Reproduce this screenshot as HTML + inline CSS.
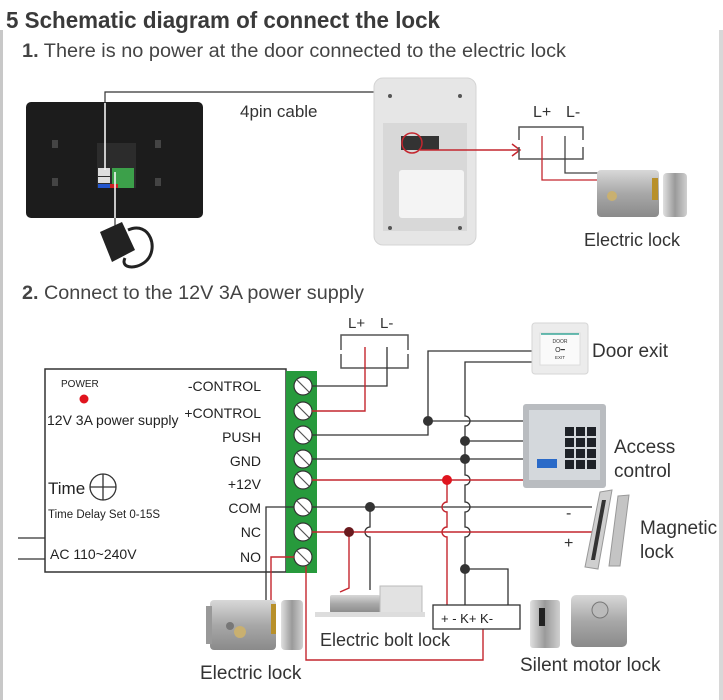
<!DOCTYPE html>
<html><head><meta charset="utf-8"><style>
html,body{margin:0;padding:0;background:#fff;}
svg{display:block;font-family:"Liberation Sans",sans-serif;}
</style></head><body>
<svg width="723" height="700" viewBox="0 0 723 700" xmlns="http://www.w3.org/2000/svg">
<defs>
<linearGradient id="steel" x1="0" y1="0" x2="0" y2="1"><stop offset="0" stop-color="#d8d8d8"/><stop offset="0.5" stop-color="#a8a8a8"/><stop offset="1" stop-color="#8a8a8a"/></linearGradient>
<linearGradient id="steel2" x1="0" y1="0" x2="1" y2="0"><stop offset="0" stop-color="#e0e0e0"/><stop offset="0.5" stop-color="#9a9a9a"/><stop offset="1" stop-color="#d0d0d0"/></linearGradient>
</defs>
<rect x="0" y="30" width="3" height="670" fill="#c8c8c8"/>
<rect x="719" y="30" width="4" height="670" fill="#d8d8d8"/>
<text x="6" y="28" font-size="23" font-weight="bold" fill="#3a3a3a" textLength="434" lengthAdjust="spacingAndGlyphs">5  Schematic diagram of connect the lock</text>
<text x="22" y="57" font-size="19" fill="#444" textLength="544" lengthAdjust="spacingAndGlyphs"><tspan font-weight="bold">1.</tspan> There is no power at the door connected to the electric lock</text>

<!-- monitor -->
<rect x="26" y="102" width="177" height="116" rx="5" fill="#1c1c1c"/>
<rect x="97" y="143" width="39" height="45" fill="#2c2c2c"/>
<rect x="98" y="168" width="12" height="8" fill="#ddd"/>
<rect x="98" y="177" width="12" height="6" fill="#ddd"/>
<rect x="98" y="184" width="14" height="4" fill="#2255cc"/>
<rect x="112" y="168" width="22" height="20" fill="#3ca04a"/>
<rect x="110" y="184" width="8" height="4" fill="#cc2222"/>
<g fill="#444"><rect x="52" y="140" width="6" height="8"/><rect x="155" y="140" width="6" height="8"/><rect x="52" y="178" width="6" height="8"/><rect x="155" y="178" width="6" height="8"/></g>
<path d="M105 170 V92 H425 V140" fill="none" stroke="#333" stroke-width="1.2"/>
<line x1="105" y1="103" x2="105" y2="170" stroke="#fff" stroke-width="1.5"/>
<line x1="115" y1="172" x2="115" y2="225" stroke="#fff" stroke-width="1.5"/>
<line x1="115" y1="218" x2="115" y2="228" stroke="#333" stroke-width="1.2"/>
<path d="M100 232 L122 222 L135 250 L112 262 Z" fill="#222"/>
<path d="M128 230 C150 220 160 250 145 262 C135 270 120 268 125 258" fill="none" stroke="#222" stroke-width="3"/>
<text x="240" y="117" font-size="17" fill="#333">4pin cable</text>

<!-- outdoor unit -->
<rect x="374" y="78" width="102" height="167" rx="9" fill="#e6e6e6" stroke="#d4d4d4"/>
<rect x="383" y="123" width="84" height="108" fill="#d8d8d8"/>
<rect x="399" y="170" width="65" height="48" rx="3" fill="#f4f4f4"/>
<rect x="401" y="136" width="38" height="14" fill="#333"/>
<g fill="#555"><circle cx="390" cy="96" r="2"/><circle cx="460" cy="96" r="2"/><circle cx="390" cy="228" r="2"/><circle cx="460" cy="228" r="2"/></g>
<circle cx="412" cy="143" r="10" fill="none" stroke="#c4262e" stroke-width="1.5"/>
<path d="M420 150 H520" stroke="#c4262e" stroke-width="1.5" fill="none"/>
<path d="M512 144 L520 150 L512 156" stroke="#c4262e" stroke-width="1.5" fill="none"/>
<text x="533" y="117" font-size="16" fill="#333">L+</text><text x="566" y="117" font-size="16" fill="#333">L-</text>
<path d="M519 140 V127 H583 V140 M519 147 V159 H583 V147" fill="none" stroke="#555" stroke-width="1.5"/>
<path d="M542 136 V180 H597" fill="none" stroke="#c4262e" stroke-width="1.3"/>
<path d="M565 136 V173 H600" fill="none" stroke="#444" stroke-width="1.3"/>
<rect x="597" y="170" width="62" height="47" rx="4" fill="url(#steel)"/>
<rect x="652" y="178" width="6" height="22" fill="#b8902a"/>
<circle cx="612" cy="196" r="5" fill="#c9b070"/>
<rect x="663" y="173" width="24" height="44" rx="4" fill="url(#steel2)"/>
<text x="584" y="246" font-size="18" fill="#333">Electric lock</text>

<text x="22" y="299" font-size="19" fill="#444" textLength="342" lengthAdjust="spacingAndGlyphs"><tspan font-weight="bold">2.</tspan> Connect to the 12V 3A power supply</text>

<!-- power box -->
<rect x="45" y="369" width="241" height="203" fill="#fff" stroke="#333" stroke-width="1.5"/>
<text x="61" y="387" font-size="10" fill="#222">POWER</text>
<circle cx="84" cy="399" r="4.5" fill="#e0141e"/>
<text x="47" y="425" font-size="14" fill="#222">12V 3A power supply</text>
<g font-size="14" fill="#222" text-anchor="end">
<text x="261" y="391">-CONTROL</text><text x="261" y="418">+CONTROL</text><text x="261" y="442">PUSH</text><text x="261" y="466">GND</text><text x="261" y="489">+12V</text><text x="261" y="513">COM</text><text x="261" y="537">NC</text><text x="261" y="562">NO</text>
</g>
<text x="48" y="494" font-size="17" fill="#222">Time</text>
<circle cx="103" cy="487" r="13" fill="none" stroke="#333" stroke-width="1.3"/>
<path d="M90 487 H116 M103 474 V500" stroke="#333" stroke-width="1.3"/>
<text x="48" y="518" font-size="11.5" fill="#222">Time Delay Set 0-15S</text>
<text x="50" y="559" font-size="14" fill="#222">AC 110~240V</text>
<path d="M18 538 H45 M18 559 H45" stroke="#333" stroke-width="1.3"/>
<rect x="286" y="371" width="31" height="202" fill="#279a3c"/>
<g fill="#fff" stroke="#333" stroke-width="1.2">
<circle cx="303" cy="386" r="9"/><circle cx="303" cy="411" r="9"/><circle cx="303" cy="435" r="9"/><circle cx="303" cy="459" r="9"/><circle cx="303" cy="480" r="9"/><circle cx="303" cy="507" r="9"/><circle cx="303" cy="532" r="9"/><circle cx="303" cy="557" r="9"/>
</g>
<g stroke="#555" stroke-width="1.2">
<path d="M297 380 L309 392 M297 405 L309 417 M297 429 L309 441 M297 453 L309 465 M297 474 L309 486 M297 501 L309 513 M297 526 L309 538 M297 551 L309 563"/>
</g>

<!-- top L box -->
<text x="348" y="328" font-size="15" fill="#333">L+</text><text x="380" y="328" font-size="15" fill="#333">L-</text>
<path d="M341 350 V335 H408 V350 M341 354 V368 H408 V354" fill="none" stroke="#555" stroke-width="1.5"/>

<!-- wires dark -->
<g fill="none" stroke="#333" stroke-width="1.3">
<path d="M312 386 H387 V347"/>
<path d="M312 435 H428 V351 H532"/>
<path d="M428 421 H523"/>
<path d="M532 362 H465 V416 a5 5 0 0 1 0 10 V475 a5 5 0 0 1 0 10 V502 a5 5 0 0 1 0 10 V527 a5 5 0 0 1 0 10 V605"/>
<path d="M465 441 H523"/>
<path d="M312 459 H523"/>
<path d="M312 507 H592"/>
<path d="M370 507 V527 a5 5 0 0 0 0 10 V590"/>
<path d="M465 569 H508 V605"/>
<path d="M294 507 H266 V615"/>
</g>
<g fill="none" stroke="#c4262e" stroke-width="1.4">
<path d="M312 411 H365 V347"/>
<path d="M312 480 H523"/>
<path d="M447 480 V502 a5 5 0 0 0 0 10 V527 a5 5 0 0 0 0 10 V605"/>
<path d="M312 532 H592"/>
<path d="M349 532 V588 L340 592"/>
<path d="M294 557 H271 V615"/>
<path d="M306 566 V660 H483 V629"/>
</g>
<g fill="#333"><circle cx="428" cy="421" r="5"/><circle cx="465" cy="441" r="5"/><circle cx="465" cy="459" r="5"/><circle cx="370" cy="507" r="5"/><circle cx="465" cy="569" r="5"/></g>
<circle cx="349" cy="532" r="5" fill="#6a1a1e"/>
<circle cx="447" cy="480" r="5" fill="#e0141e"/>

<!-- door exit -->
<rect x="532" y="323" width="56" height="51" rx="3" fill="#ececec" stroke="#d6d6d6"/>
<rect x="540" y="333" width="40" height="32" fill="#fafafa" stroke="#ddd"/>
<line x1="541" y1="334" x2="579" y2="334" stroke="#3aa89a" stroke-width="1.5"/>
<text x="560" y="343" font-size="5" text-anchor="middle" fill="#333">DOOR</text>
<text x="560" y="352" font-size="7" text-anchor="middle" fill="#333">O━</text>
<text x="560" y="359" font-size="4.5" text-anchor="middle" fill="#333">EXIT</text>
<text x="592" y="357" font-size="19" fill="#333">Door exit</text>

<!-- access control -->
<rect x="523" y="404" width="83" height="84" rx="3" fill="#b9bcc0"/>
<rect x="529" y="410" width="71" height="70" fill="#d4d8dc"/>
<g fill="#1e2228">
<rect x="565" y="427" width="9" height="9"/><rect x="576" y="427" width="9" height="9"/><rect x="587" y="427" width="9" height="9"/>
<rect x="565" y="438" width="9" height="9"/><rect x="576" y="438" width="9" height="9"/><rect x="587" y="438" width="9" height="9"/>
<rect x="565" y="449" width="9" height="9"/><rect x="576" y="449" width="9" height="9"/><rect x="587" y="449" width="9" height="9"/>
<rect x="565" y="460" width="9" height="9"/><rect x="576" y="460" width="9" height="9"/><rect x="587" y="460" width="9" height="9"/>
</g>
<rect x="537" y="459" width="20" height="9" fill="#2a6ac8"/>
<text x="614" y="453" font-size="19" fill="#333">Access</text>
<text x="614" y="477" font-size="19" fill="#333">control</text>

<!-- magnetic lock -->
<path d="M600 492 L612 490 L598 569 L585 567 Z" fill="#cfcfcf" stroke="#999"/>
<path d="M602 500 L606 500 L595 560 L591 560 Z" fill="#333"/>
<path d="M618 496 L629 495 L620 566 L609 566 Z" fill="#c4c4c4" stroke="#999"/>
<text x="566" y="518" font-size="16" fill="#333">-</text>
<text x="564" y="548" font-size="16" fill="#333">+</text>
<text x="640" y="534" font-size="19" fill="#333">Magnetic</text>
<text x="640" y="558" font-size="19" fill="#333">lock</text>

<!-- K box -->
<rect x="433" y="605" width="87" height="24" fill="#fff" stroke="#333" stroke-width="1.3"/>
<text x="441" y="623" font-size="13" fill="#222">+  -  K+  K-</text>

<!-- bottom electric lock -->
<rect x="210" y="600" width="66" height="50" rx="4" fill="url(#steel)"/>
<rect x="206" y="606" width="6" height="38" fill="#999"/>
<circle cx="230" cy="626" r="4" fill="#777"/>
<circle cx="240" cy="632" r="6" fill="#c9b070"/>
<rect x="271" y="604" width="5" height="30" fill="#b8902a"/>
<rect x="281" y="600" width="22" height="50" rx="4" fill="url(#steel2)"/>
<text x="200" y="679" font-size="19" fill="#333">Electric lock</text>

<!-- bolt lock -->
<rect x="330" y="595" width="50" height="18" rx="2" fill="url(#steel)"/>
<rect x="380" y="586" width="42" height="28" fill="#e2e2e2" stroke="#bbb"/>
<rect x="315" y="612" width="110" height="5" fill="#ddd"/>
<text x="320" y="646" font-size="18" fill="#333">Electric bolt lock</text>

<!-- silent motor lock -->
<rect x="530" y="600" width="30" height="48" rx="3" fill="url(#steel2)"/>
<rect x="539" y="608" width="6" height="18" fill="#222"/>
<rect x="571" y="595" width="56" height="52" rx="5" fill="url(#steel)"/>
<circle cx="600" cy="610" r="8" fill="#bbb" stroke="#777"/>
<text x="520" y="671" font-size="19" fill="#333">Silent motor lock</text>
</svg>
</body></html>
